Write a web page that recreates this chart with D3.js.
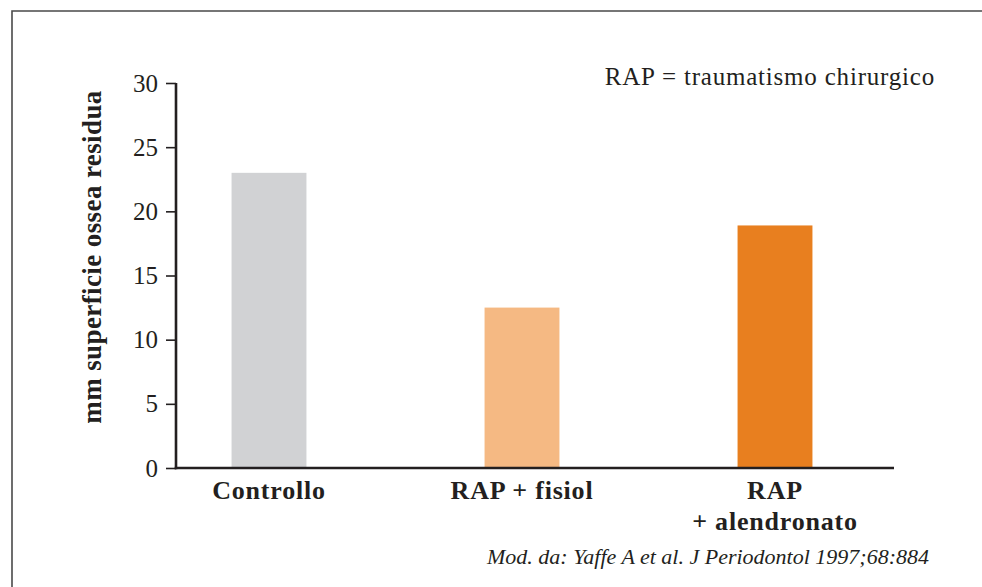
<!DOCTYPE html>
<html>
<head>
<meta charset="utf-8">
<script src="https://cdn.jsdelivr.net/npm/d3@7"></script>
<style>
  html, body { margin: 0; padding: 0; background: #fff; }
  svg { display: block; }
</style>
</head>
<body>
<script>
// Residual bone surface per treatment group
const categories = ["Controllo", "RAP + fisiol", "RAP\n+ alendronato"];
const values = [23.0, 12.5, 18.9];
const barColors = ["#d1d2d4", "#f5b983", "#e87f1f"];
const yTicks = [0, 5, 10, 15, 20, 25, 30];
const yLabel = "mm superficie ossea residua";
const note = "RAP = traumatismo chirurgico";
const source = "Mod. da: Yaffe A et al. J Periodontol 1997;68:884";

const SERIF = "'Liberation Serif', 'DejaVu Serif', serif";
const INK = "#231f20";

const W = 982, H = 587;
const svg = d3.select("body").append("svg").attr("width", W).attr("height", H);

// panel frame (open on right and bottom)
svg.append("path")
  .attr("d", `M12,${H} L12,11 L${W},11`)
  .attr("fill", "none").attr("stroke", "#4a4a4a").attr("stroke-width", 1.6);

const x0 = 176, x1 = 894, yTop = 83, yBot = 468;

const y = d3.scaleLinear().domain([0, 30]).range([yBot, yTop]);
const x = d3.scaleBand().domain(categories).range([142.5, 901.5]).paddingInner(0.704).paddingOuter(0.352);

// bars
svg.append("g").selectAll("rect").data(categories).join("rect")
  .attr("x", d => x(d))
  .attr("width", x.bandwidth())
  .attr("y", (d, i) => y(values[i]))
  .attr("height", (d, i) => yBot - y(values[i]))
  .attr("fill", (d, i) => barColors[i]);

// y axis
const yAxis = d3.axisLeft(y).tickValues(yTicks).tickSize(10).tickPadding(8).tickFormat(d3.format("d"));
const gy = svg.append("g").attr("transform", `translate(${x0},0)`).call(yAxis);
gy.select(".domain").remove();
gy.selectAll(".tick line").attr("stroke", INK).attr("stroke-width", 1.6);
gy.selectAll(".tick text")
  .style("font-family", SERIF).style("font-size", "25px").style("fill", INK);
svg.append("line").attr("x1", x0).attr("x2", x0).attr("y1", yTop).attr("y2", yBot + 1.2)
  .attr("stroke", INK).attr("stroke-width", 2.6);

// x axis baseline
svg.append("line").attr("x1", x0 - 1.3).attr("x2", x1).attr("y1", yBot).attr("y2", yBot)
  .attr("stroke", INK).attr("stroke-width", 2.4);

// category labels
const catG = svg.append("g");
categories.forEach(c => {
  const cx = x(c) + x.bandwidth() / 2;
  const t = catG.append("text")
    .attr("x", cx).attr("y", 499)
    .attr("text-anchor", "middle")
    .style("font-family", SERIF).style("font-size", "26px").style("font-weight", "bold")
    .style("letter-spacing", "0.8px").style("fill", INK);
  c.split("\n").forEach((line, i) => {
    t.append("tspan").attr("x", cx).attr("dy", i === 0 ? 0 : 31).text(line);
  });
});

// y axis title
svg.append("text")
  .attr("transform", `translate(101,257) rotate(-90)`)
  .attr("text-anchor", "middle")
  .style("font-family", SERIF).style("font-size", "27px").style("font-weight", "bold")
  .style("letter-spacing", "0.4px").style("fill", INK)
  .text(yLabel);

// abbreviation note
svg.append("text").attr("x", 935).attr("y", 85).attr("text-anchor", "end")
  .style("font-family", SERIF).style("font-size", "25px").style("letter-spacing", "0.8px").style("fill", INK)
  .text(note);

// source
svg.append("text").attr("x", 929).attr("y", 564).attr("text-anchor", "end")
  .style("font-family", SERIF).style("font-size", "22px").style("font-style", "italic")
  .style("letter-spacing", "0px").style("fill", INK)
  .text(source);
</script>
</body>
</html>
